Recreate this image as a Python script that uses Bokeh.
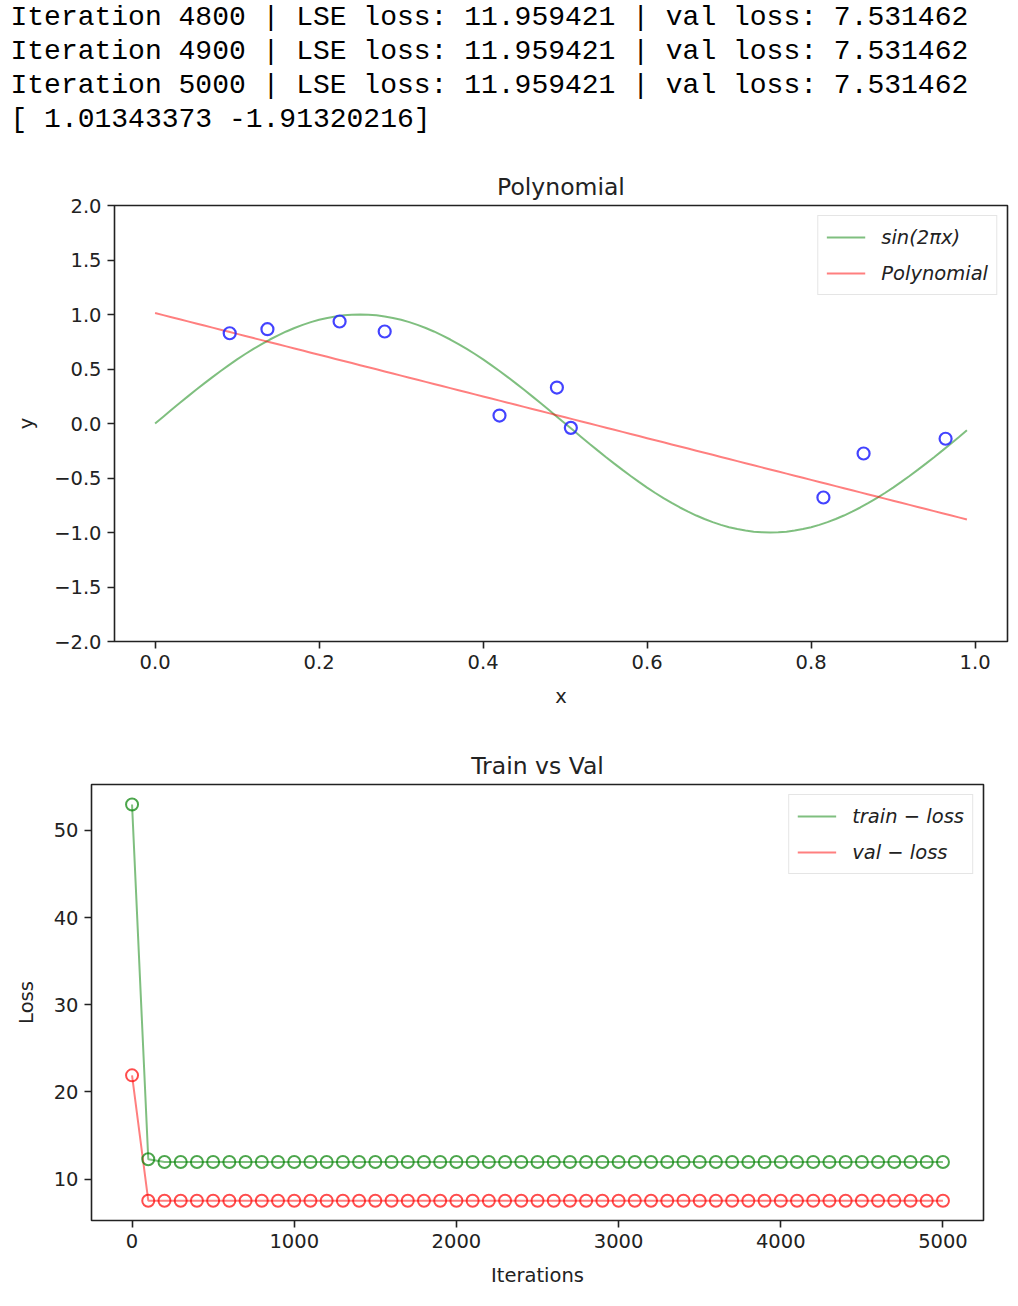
import numpy as np
from bokeh.plotting import figure
from bokeh.models import Range1d, FixedTicker, CustomJSTickFormatter
from bokeh.core.properties import value
from bokeh.embed import file_html
from bokeh.resources import INLINE

# ---------------- data ----------------
log_lines = [
    "Iteration 4800 | LSE loss: 11.959421 | val loss: 7.531462",
    "Iteration 4900 | LSE loss: 11.959421 | val loss: 7.531462",
    "Iteration 5000 | LSE loss: 11.959421 | val loss: 7.531462",
    "[ 1.01343373 -1.91320216]",
]
coef = [1.01343373, -1.91320216]
sample_x = [0.091, 0.137, 0.225, 0.280, 0.420, 0.490, 0.507, 0.815, 0.864, 0.964]
sample_y = [0.828, 0.865, 0.936, 0.844, 0.073, 0.330, -0.040, -0.679, -0.275, -0.140]
curve_x = np.arange(0.0, 1.0, 0.01)

iterations = list(range(0, 5001, 100))
train_loss = [52.96, 12.29,
              11.959421, 11.959421, 11.959421, 11.959421, 11.959421, 11.959421, 11.959421,
              11.959421, 11.959421, 11.959421, 11.959421, 11.959421, 11.959421, 11.959421,
              11.959421, 11.959421, 11.959421, 11.959421, 11.959421, 11.959421, 11.959421,
              11.959421, 11.959421, 11.959421, 11.959421, 11.959421, 11.959421, 11.959421,
              11.959421, 11.959421, 11.959421, 11.959421, 11.959421, 11.959421, 11.959421,
              11.959421, 11.959421, 11.959421, 11.959421, 11.959421, 11.959421, 11.959421,
              11.959421, 11.959421, 11.959421, 11.959421, 11.959421, 11.959421, 11.959421]
val_loss = [21.9, 7.531462,
            7.531462, 7.531462, 7.531462, 7.531462, 7.531462, 7.531462, 7.531462,
            7.531462, 7.531462, 7.531462, 7.531462, 7.531462, 7.531462, 7.531462,
            7.531462, 7.531462, 7.531462, 7.531462, 7.531462, 7.531462, 7.531462,
            7.531462, 7.531462, 7.531462, 7.531462, 7.531462, 7.531462, 7.531462,
            7.531462, 7.531462, 7.531462, 7.531462, 7.531462, 7.531462, 7.531462,
            7.531462, 7.531462, 7.531462, 7.531462, 7.531462, 7.531462, 7.531462,
            7.531462, 7.531462, 7.531462, 7.531462, 7.531462, 7.531462, 7.531462]

FONT = "DejaVu Sans"
INK = "#222222"


def style(p):
    p.xgrid.visible = False
    p.ygrid.visible = False
    p.outline_line_color = INK
    p.outline_line_width = 1.6
    p.title.text_font = FONT
    p.title.text_font_size = "23.5px"
    p.title.text_font_style = "normal"
    p.title.text_color = INK
    p.title.align = "center"
    for ax in (p.xaxis[0], p.yaxis[0]):
        ax.axis_line_color = None
        ax.major_tick_line_color = INK
        ax.major_tick_line_width = 1.6
        ax.major_tick_out = 7
        ax.major_tick_in = 0
        ax.minor_tick_line_color = None
        ax.major_label_text_font = FONT
        ax.major_label_text_font_size = "19.5px"
        ax.major_label_text_color = INK
        ax.axis_label_text_font = FONT
        ax.axis_label_text_font_size = "19.5px"
        ax.axis_label_text_font_style = "normal"
        ax.axis_label_text_color = INK
        ax.major_label_standoff = 6
        ax.axis_label_standoff = 13


def style_legend(p):
    lg = p.legend[0]
    lg.location = "top_right"
    lg.label_text_font = FONT
    lg.label_text_font_style = "italic"
    lg.label_text_font_size = "19.5px"
    lg.label_text_color = INK
    lg.glyph_width = 39
    lg.glyph_height = 26
    lg.label_height = 26
    lg.label_standoff = 16
    lg.spacing = 10
    lg.padding = 8
    lg.margin = 10
    lg.border_line_color = "#cccccc"
    lg.border_line_width = 1.2
    lg.background_fill_alpha = 0.8


# ---------------- header text ----------------
hdr = figure(width=1010, height=150, x_range=Range1d(0, 1010), y_range=Range1d(150, 0),
             x_axis_location=None, y_axis_location=None, min_border=0,
             output_backend="svg", toolbar_location=None)
hdr.grid.visible = False
hdr.outline_line_color = None
hdr.text(x=[10, 10, 10, 10], y=[17, 51, 85, 119], text=log_lines,
         text_font=value("Liberation Mono"), text_font_size="28px",
         text_baseline="middle", text_color="#000000")

# ---------------- polynomial plot ----------------
p1 = figure(width=1010, height=562, x_range=Range1d(-0.0495, 1.0395), y_range=Range1d(-2, 2),
            min_border_left=114, min_border_right=3, min_border_top=55, min_border_bottom=71,
            title="Polynomial", x_axis_label="x", y_axis_label="y",
            output_backend="svg", toolbar_location=None)
style(p1)
p1.xaxis.ticker = FixedTicker(ticks=[0, 0.2, 0.4, 0.6, 0.8, 1.0])
p1.yaxis.ticker = FixedTicker(ticks=[-2, -1.5, -1, -0.5, 0, 0.5, 1, 1.5, 2])
p1.xaxis.formatter = CustomJSTickFormatter(code="return tick.toFixed(1).replace('-', '\u2212');")
p1.yaxis.formatter = CustomJSTickFormatter(code="return tick.toFixed(1).replace('-', '\u2212');")

sin_y = np.sin(2 * np.pi * curve_x)
poly_y = coef[0] + coef[1] * curve_x
p1.line(curve_x, sin_y, line_color="#008000", line_alpha=0.5, line_width=2, legend_label="sin(2πx)")
p1.line(curve_x, poly_y, line_color="#ff0000", line_alpha=0.5, line_width=2, legend_label="Polynomial")
p1.scatter(sample_x, sample_y, marker="circle", size=12, fill_color=None,
           line_color="#2222ff", line_alpha=0.85, line_width=2.2)
style_legend(p1)

# ---------------- loss plot ----------------
p2 = figure(width=1010, height=586, x_range=Range1d(-250, 5250), y_range=Range1d(5.26, 55.25),
            min_border_left=91, min_border_right=27, min_border_top=72, min_border_bottom=78,
            title="Train vs Val", x_axis_label="Iterations", y_axis_label="Loss",
            output_backend="svg", toolbar_location=None)
style(p2)
p2.xaxis.ticker = FixedTicker(ticks=[0, 1000, 2000, 3000, 4000, 5000])
p2.yaxis.ticker = FixedTicker(ticks=[10, 20, 30, 40, 50])
p2.line(iterations, train_loss, line_color="#008000", line_alpha=0.5, line_width=2, legend_label="train − loss")
p2.line(iterations, val_loss, line_color="#ff0000", line_alpha=0.5, line_width=2, legend_label="val − loss")
p2.scatter(iterations, train_loss, marker="circle", size=12, fill_color=None,
           line_color="#008000", line_alpha=0.7, line_width=2)
p2.scatter(iterations, val_loss, marker="circle", size=12, fill_color=None,
           line_color="#ff0000", line_alpha=0.7, line_width=2)
style_legend(p2)

open("out.html", "w").write(file_html([hdr, p1, p2], INLINE))
